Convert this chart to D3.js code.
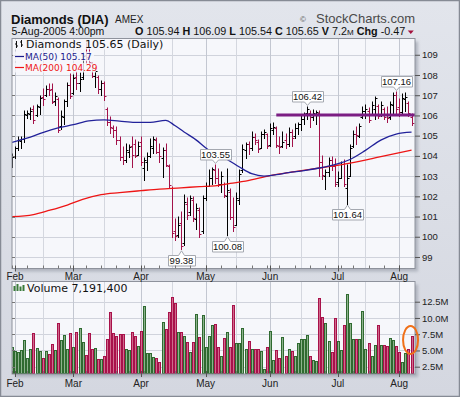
<!DOCTYPE html>
<html>
<head>
<meta charset="utf-8">
<title>Diamonds (DIA)</title>
<script src="https://cdnjs.cloudflare.com/ajax/libs/d3/7.8.5/d3.min.js"></script>
<style>
  html, body { margin: 0; padding: 0; background: #dfe2e9; }
  svg { display: block; font-family: "Liberation Sans", Arial, sans-serif; }
</style>
</head>
<body>
<svg id="chart" width="460" height="397"></svg>
<script>
(function () {
  'use strict';

  // ---- data ----
  var dates = [
    '01-31',
    '02-01','02-02','02-03','02-04','02-07','02-08','02-09','02-10','02-11','02-14','02-15','02-16','02-17','02-18','02-22','02-23','02-24','02-25','02-28',
    '03-01','03-02','03-03','03-04','03-07','03-08','03-09','03-10','03-11','03-14','03-15','03-16','03-17','03-18','03-21','03-22','03-23','03-24','03-28','03-29','03-30','03-31',
    '04-01','04-04','04-05','04-06','04-07','04-08','04-11','04-12','04-13','04-14','04-15','04-18','04-19','04-20','04-21','04-22','04-25','04-26','04-27','04-28','04-29',
    '05-02','05-03','05-04','05-05','05-06','05-09','05-10','05-11','05-12','05-13','05-16','05-17','05-18','05-19','05-20','05-23','05-24','05-25','05-26','05-27','05-31',
    '06-01','06-02','06-03','06-06','06-07','06-08','06-09','06-10','06-13','06-14','06-15','06-16','06-17','06-20','06-21','06-22','06-23','06-24','06-27','06-28','06-29','06-30',
    '07-01','07-05','07-06','07-07','07-08','07-11','07-12','07-13','07-14','07-15','07-18','07-19','07-20','07-21','07-22','07-25','07-26','07-27','07-28','07-29',
    '08-01','08-02','08-03','08-04','08-05'
  ];
  var open = [
    103.60,
    104.00,104.40,104.75,104.85,106.00,106.05,106.30,106.00,106.40,106.90,107.00,107.30,107.30,106.70,106.80,105.50,105.90,106.70,107.50,
    107.10,107.90,107.60,107.90,109.00,108.90,108.60,107.95,107.90,107.30,107.60,106.30,105.70,105.40,105.30,104.80,103.95,103.80,104.20,104.50,104.60,104.05,
    104.70,103.40,103.70,104.00,104.40,104.80,104.20,103.90,104.30,103.50,102.40,100.30,100.10,100.70,99.70,101.60,101.20,101.80,100.90,101.30,100.30,
    101.90,102.50,102.90,103.30,102.90,102.60,102.60,102.00,102.20,101.00,100.60,101.80,103.30,104.30,104.60,104.40,104.95,104.70,104.40,105.10,105.10,
    104.55,105.30,105.40,104.50,104.50,104.80,104.60,105.20,105.00,105.40,105.60,105.80,106.10,106.10,105.90,106.00,106.10,103.70,103.00,103.20,103.80,103.50,
    102.70,102.90,103.60,102.40,103.00,104.50,105.10,105.00,105.90,106.20,106.20,106.00,106.30,106.45,106.00,106.30,106.00,105.90,106.50,107.00,
    106.40,106.15,106.80,106.60,105.94
  ];
  var high = [
    104.08,
    104.45,104.95,104.95,106.20,106.20,106.35,106.45,106.50,106.95,107.30,107.45,107.55,107.55,107.10,106.85,106.20,106.75,107.60,108.05,
    108.00,108.15,108.10,109.10,109.60,109.40,108.60,108.30,107.95,107.70,107.65,106.35,105.90,105.50,105.45,104.95,104.45,104.60,104.55,104.95,104.78,104.70,
    104.95,103.90,104.12,104.85,104.95,104.87,104.60,104.40,104.60,103.55,102.48,100.90,101.00,101.24,102.05,101.90,102.00,101.95,101.60,101.40,102.00,
    102.65,103.30,103.40,103.55,103.35,103.20,102.65,103.35,102.35,101.90,102.15,103.30,104.55,104.65,104.70,105.20,105.10,104.80,105.20,105.30,105.10,
    105.60,105.65,105.45,104.95,105.20,105.10,105.40,105.30,105.60,105.65,105.95,106.10,106.42,106.20,106.25,106.20,106.20,104.00,103.30,103.90,103.95,103.85,
    103.20,103.70,103.80,103.55,104.55,105.25,105.45,105.60,106.40,106.50,106.35,106.65,106.90,106.50,106.65,106.35,106.40,106.65,107.10,107.16,
    106.80,107.05,107.10,106.68,106.09
  ];
  var low = [
    103.45,
    103.90,104.30,104.40,104.70,105.85,105.80,105.65,105.95,106.05,106.50,106.95,107.00,106.60,106.50,105.20,105.35,105.60,106.45,106.85,
    107.05,107.30,107.20,107.80,108.60,108.50,107.90,107.40,107.10,107.00,106.75,105.55,105.15,104.95,104.60,103.80,103.60,103.70,103.95,103.45,103.96,104.04,
    103.55,102.80,103.30,103.95,104.15,104.12,103.70,102.97,103.50,102.48,100.00,99.84,100.00,99.38,99.60,100.90,101.10,100.80,100.40,100.00,100.20,
    101.80,102.50,102.60,102.65,102.50,102.20,101.95,100.08,100.90,100.30,100.60,101.60,103.20,103.90,104.10,104.30,104.60,104.20,104.40,104.90,104.40,
    104.50,105.10,104.45,104.15,104.45,104.40,104.50,104.50,104.90,105.10,105.30,105.60,105.80,105.45,105.75,105.60,103.00,102.85,102.35,103.00,103.30,102.50,
    102.50,102.90,102.50,101.64,103.00,104.45,104.60,104.95,105.85,105.85,105.70,106.00,105.80,105.85,105.95,105.80,105.70,105.80,106.00,106.10,
    105.95,106.10,106.20,105.95,105.54
  ];
  var close = [
    103.95,
    104.40,104.80,104.85,106.05,106.10,106.20,105.75,106.45,106.85,106.80,107.30,107.25,106.65,106.95,105.30,105.95,106.70,107.50,106.95,
    107.85,107.60,107.80,108.95,108.90,108.65,107.95,108.20,107.30,107.60,106.95,105.70,105.45,105.30,104.80,103.95,103.80,104.30,104.45,104.05,104.00,104.50,
    103.70,103.80,104.00,104.50,104.85,104.20,104.00,104.30,103.55,102.55,100.20,100.05,100.60,99.55,101.70,101.10,101.90,100.95,101.40,100.15,101.90,
    102.50,102.90,103.35,102.90,102.60,103.00,102.05,102.30,101.00,100.50,101.90,103.10,104.35,104.60,104.40,104.95,104.80,104.35,105.10,105.20,104.50,
    105.40,105.45,104.55,104.45,104.70,104.60,105.20,104.90,105.40,105.60,105.80,106.00,106.30,105.90,106.10,106.15,103.70,103.05,103.20,103.80,103.50,102.60,
    102.90,103.60,102.60,102.90,104.40,105.10,105.05,105.50,106.20,106.30,105.75,106.50,106.85,105.95,106.50,105.90,105.85,106.55,107.00,106.30,
    106.15,106.85,106.90,106.12,105.65
  ];
  // volume in millions of shares
  var volume = [
    5.48,
    4.92,4.71,5.07,6.61,3.79,5.23,7.64,5.33,4.92,3.79,4.92,4.40,6.00,5.07,9.17,6.61,7.38,5.23,7.64,
    5.48,7.79,8.41,6.25,4.30,7.64,5.23,5.33,3.64,3.64,4.15,6.71,10.87,7.74,7.23,7.48,7.48,5.17,5.07,7.79,7.28,5.74,
    7.94,11.84,4.56,4.56,3.94,3.79,3.28,9.33,8.30,10.97,13.17,12.25,7.79,7.89,7.23,6.25,4.71,6.25,10.56,7.12,10.46,
    5.59,7.23,8.92,9.07,5.48,4.15,6.97,7.79,5.60,12.00,6.10,6.20,8.50,5.20,6.40,5.30,5.20,5.20,4.90,2.10,5.60,
    8.00,3.50,5.00,3.80,7.00,4.20,5.20,4.90,4.20,6.20,6.70,6.80,7.40,4.20,3.60,3.40,13.00,10.20,9.20,6.50,4.80,10.00,
    6.40,5.00,8.90,13.70,9.20,6.80,6.70,6.70,11.00,5.20,6.20,4.20,5.90,8.90,5.90,5.90,5.70,6.90,6.60,5.70,
    4.80,3.30,4.60,5.20,7.19
  ];
  var ma50Idx = [0, 3, 6, 10, 15, 20, 25, 30, 35, 40, 45, 50, 53, 56, 60, 63, 66, 70, 74, 78, 82, 86, 90, 95, 100, 105, 110, 115, 120, 125, 130];
  var ma50 = [104.67, 104.80, 104.93, 105.15, 105.38, 105.54, 105.73, 105.78, 105.72, 105.66, 105.66, 105.76, 105.50, 105.18, 104.78, 104.40, 104.08, 103.82, 103.45, 103.12, 103.00, 103.07, 103.17, 103.27, 103.40, 103.57, 103.82, 104.27, 104.78, 105.08, 105.17];
  var ma200Idx = [0, 7, 12, 18, 23, 29, 35, 42, 48, 55, 61, 66, 71, 76, 84, 92, 100, 110, 120, 130];
  var ma200 = [101.00, 101.10, 101.30, 101.57, 101.85, 102.08, 102.18, 102.28, 102.36, 102.42, 102.48, 102.52, 102.64, 102.75, 103.02, 103.22, 103.40, 103.64, 103.96, 104.29];
  var priceTicks = [99, 100, 101, 102, 103, 104, 105, 106, 107, 108, 109];
  var volTicks = [2.5, 5.0, 7.5, 10.0, 12.5];
  var monthNames = ['Jan', 'Feb', 'Mar', 'Apr', 'May', 'Jun', 'Jul', 'Aug'];
  var midMonthIdx = [10, 30, 52, 73, 94, 115];
  // price callouts: bar index and which end of the bar gets the tag
  var callouts = [
    { i: 66, end: 'high' }, { i: 55, end: 'low' }, { i: 70, end: 'low' },
    { i: 96, end: 'high' }, { i: 109, end: 'low' }, { i: 125, end: 'high' }
  ];
  var resistance = { fromIdx: 86, level: 106.02 };

  var svg = d3.select('#chart');
  var W = 460, H = 397;
  var P = { l: 12, r: 415, t: 38.5, b: 268.5 };   // price panel
  var V = { l: 12, r: 415, t: 281.5, b: 374 };    // volume panel
  var VERDANA = '"DejaVu Sans", Verdana, sans-serif';

  var x = d3.scaleLinear().domain([0, 130]).range([11.93, 411.55]);
  var y = d3.scaleLinear().domain([98.44, 109.815]).range([268.3, 38.3]);
  var yv = d3.scaleLinear().domain([1.377, 15.58]).range([374, 281.7]);
  function px(i) { return Math.round(x(i)) + 0.5; }
  function py(v) { return Math.round(y(v)) + 0.5; }
  function pyv(v) { return Math.round(yv(v)) + 0.5; }

  var UP = '#000000', DOWN = '#a3124a';
  function isUp(i) { return i === 0 || close[i] >= close[i - 1]; }

  // ---- background ----
  var defs = svg.append('defs');
  var grad = defs.append('linearGradient').attr('id', 'bg').attr('x1', 0).attr('y1', 0).attr('x2', 0).attr('y2', 1);
  grad.append('stop').attr('offset', '0%').attr('stop-color', '#e2e5ec');
  grad.append('stop').attr('offset', '100%').attr('stop-color', '#d4d7e0');
  var blur = defs.append('filter').attr('id', 'sh').attr('x', '-5%').attr('y', '-5%').attr('width', '115%').attr('height', '115%');
  blur.append('feGaussianBlur').attr('stdDeviation', 1.6);
  defs.append('clipPath').attr('id', 'clipP').append('rect')
    .attr('x', P.l).attr('y', P.t).attr('width', P.r - P.l).attr('height', P.b - P.t);
  defs.append('clipPath').attr('id', 'clipV').append('rect')
    .attr('x', V.l).attr('y', V.t).attr('width', V.r - V.l).attr('height', V.b - V.t);

  svg.append('rect').attr('x', 0.5).attr('y', 0.5).attr('width', W - 1).attr('height', H - 1)
    .attr('fill', 'url(#bg)').attr('stroke', '#868b95').attr('stroke-width', 1.5);

  [P, V].forEach(function (p) {
    svg.append('rect').attr('x', p.l + 3).attr('y', p.t + 3).attr('width', p.r - p.l).attr('height', p.b - p.t)
      .attr('fill', '#9ea3ae').attr('opacity', 0.7).attr('filter', 'url(#sh)');
    svg.append('rect').attr('x', p.l).attr('y', p.t).attr('width', p.r - p.l).attr('height', p.b - p.t)
      .attr('fill', '#f6f7fb');
  });

  // ---- header ----
  svg.append('text').attr('x', 11).attr('y', 23.5).attr('font-size', 13).attr('font-weight', 'bold')
    .attr('fill', '#111').text('Diamonds (DIA)');
  svg.append('text').attr('x', 115).attr('y', 22.7).attr('font-size', 10).attr('fill', '#222').text('AMEX');
  svg.append('text').attr('x', 11.5).attr('y', 35).attr('font-size', 10.5).attr('fill', '#111').text('5-Aug-2005 4:00pm');
  svg.append('text').attr('x', 300).attr('y', 21.5).attr('font-size', 8).attr('fill', '#555').text('\u00a9');
  svg.append('text').attr('x', 415).attr('y', 23).attr('text-anchor', 'end').attr('font-size', 13)
    .attr('fill', '#4a4a4a').text('StockCharts.com');

  // quote line: bold keys, plain values, one flowing text
  var quote = [
    ['O', true], ['\u00a0105.94\u00a0', false], ['H', true], ['\u00a0106.09\u00a0', false],
    ['L', true], ['\u00a0105.54\u00a0', false], ['C', true], ['\u00a0105.65\u00a0', false],
    ['V', true], ['\u00a07.2', false], ['M', false, 8], ['\u00a0', false], ['Chg', true], ['\u00a0-0.47', false]
  ];
  var qt = svg.append('text').attr('x', 135).attr('y', 35).attr('font-size', 10.8).attr('fill', '#111');
  quote.forEach(function (q) {
    var t = qt.append('tspan').attr('font-weight', q[1] ? 'bold' : 'normal').text(q[0]);
    if (q[2]) t.attr('font-size', q[2]);
  });
  var qEnd = 135 + qt.node().getComputedTextLength();
  svg.append('path').attr('d', 'M' + (qEnd + 2.5) + ',30.5 h6 l-3,3.5 Z').attr('fill', '#a3103c');

  // ---- grids ----
  var monthIdx = [];
  dates.forEach(function (d, i) {
    if (i > 0 && d.slice(0, 2) !== dates[i - 1].slice(0, 2)) monthIdx.push(i);
  });
  var weekIdx = [];
  dates.forEach(function (d, i) {
    var dt = new Date(2005, +d.slice(0, 2) - 1, +d.slice(3));
    if (i === 0) { weekIdx.push(i); return; }
    var pd = dates[i - 1];
    var pdt = new Date(2005, +pd.slice(0, 2) - 1, +pd.slice(3));
    if (dt.getDay() < pdt.getDay()) weekIdx.push(i);
  });
  var vgrid = monthIdx.concat(midMonthIdx);
  function vColor(d) { return monthIdx.indexOf(d) >= 0 ? '#c3c7d1' : '#d4d7df'; }

  var gP = svg.append('g');
  gP.selectAll('line.h').data(priceTicks).enter().append('line')
    .attr('x1', P.l).attr('x2', P.r).attr('y1', py).attr('y2', py)
    .attr('stroke', '#d0d3dc').attr('stroke-width', 1);
  gP.selectAll('line.v').data(vgrid).enter().append('line')
    .attr('x1', px).attr('x2', px).attr('y1', P.t).attr('y2', P.b).attr('stroke', vColor);

  var gV = svg.append('g');
  gV.selectAll('line.h').data(volTicks).enter().append('line')
    .attr('x1', V.l).attr('x2', V.r).attr('y1', pyv).attr('y2', pyv).attr('stroke', '#d0d3dc');
  gV.selectAll('line.v').data(vgrid).enter().append('line')
    .attr('x1', px).attr('x2', px).attr('y1', V.t).attr('y2', V.b).attr('stroke', vColor);

  // ---- volume bars ----
  svg.append('g').attr('clip-path', 'url(#clipV)').selectAll('rect').data(volume).enter().append('rect')
    .attr('x', function (d, i) { return Math.round(x(i)) - 0.5; })
    .attr('width', 2)
    .attr('y', pyv)
    .attr('height', function (d) { return V.b - pyv(d); })
    .attr('fill', function (d, i) { return isUp(i) ? '#8db28d' : '#cf6a8c'; })
    .attr('stroke', function (d, i) { return isUp(i) ? '#2f6a30' : '#a8114a'; })
    .attr('stroke-width', 1);

  // ---- price bars ----
  var gBars = svg.append('g').attr('clip-path', 'url(#clipP)');
  gBars.selectAll('path').data(close).enter().append('path')
    .attr('d', function (c, i) {
      var xx = px(i);
      return 'M' + xx + ',' + (Math.round(y(high[i])) - 0.5) + 'V' + (Math.round(y(low[i])) + 1) +
        'M' + (xx - 2) + ',' + py(open[i]) + 'H' + xx +
        'M' + xx + ',' + py(c) + 'H' + (xx + 2);
    })
    .attr('fill', 'none').attr('stroke-width', 1)
    .attr('stroke', function (c, i) { return isUp(i) ? UP : DOWN; });

  // ---- moving averages ----
  var line = d3.line().x(function (d) { return x(d[0]); }).y(function (d) { return y(d[1]); })
    .curve(d3.curveMonotoneX);
  var gMA = svg.append('g').attr('clip-path', 'url(#clipP)');
  gMA.append('path').datum(d3.zip(ma200Idx, ma200)).attr('d', line)
    .attr('fill', 'none').attr('stroke', '#ee1515').attr('stroke-width', 1.3);
  gMA.append('path').datum(d3.zip(ma50Idx, ma50)).attr('d', line)
    .attr('fill', 'none').attr('stroke', '#22229a').attr('stroke-width', 1.3);

  // resistance line
  svg.append('line').attr('x1', x(resistance.fromIdx)).attr('x2', P.r)
    .attr('y1', y(resistance.level)).attr('y2', y(resistance.level))
    .attr('stroke', '#7b1d83').attr('stroke-width', 3);

  // ---- callouts ----
  callouts.forEach(function (c) {
    var v = c.end === 'high' ? high[c.i] : low[c.i];
    var label = v.toFixed(2);
    var cx = px(c.i);
    var w = label.length > 5 ? 31 : 27, h = 10.5;
    var bx = Math.round(cx - w / 2) + 0.5;
    var g = svg.append('g');
    var d, by;
    if (c.end === 'high') {
      var tip = y(v) - 1.5;
      by = Math.round(tip - 4 - h) + 0.5;
      d = 'M' + bx + ',' + by + 'H' + (bx + w) + 'V' + (by + h) + 'H' + (cx + 3) +
        'L' + cx + ',' + tip + 'L' + (cx - 3) + ',' + (by + h) + 'H' + bx + 'Z';
    } else {
      var tipL = y(v) + 1.5;
      by = Math.round(tipL + 4) + 0.5;
      d = 'M' + bx + ',' + by + 'H' + (cx - 3) + 'L' + cx + ',' + tipL + 'L' + (cx + 3) + ',' + by +
        'H' + (bx + w) + 'V' + (by + h) + 'H' + bx + 'Z';
    }
    g.append('path').attr('d', d).attr('fill', '#ffffff').attr('stroke', '#a4a8b0').attr('stroke-width', 1);
    g.append('text').attr('x', cx).attr('y', by + 8.6).attr('text-anchor', 'middle')
      .attr('font-size', 9.5).attr('fill', '#111').text(label);
  });

  // ---- panel borders & axes ----
  [P, V].forEach(function (p) {
    svg.append('rect').attr('x', p.l).attr('y', p.t).attr('width', p.r - p.l).attr('height', p.b - p.t)
      .attr('fill', 'none').attr('stroke', '#8e929c').attr('stroke-width', 1);
  });

  var axP = svg.append('g').attr('transform', 'translate(' + P.r + ',0)')
    .call(d3.axisRight(y).tickValues(priceTicks).tickSize(5).tickPadding(2).tickFormat(d3.format('d')));
  var axV = svg.append('g').attr('transform', 'translate(' + V.r + ',0)')
    .call(d3.axisRight(yv).tickValues(volTicks).tickSize(5).tickPadding(2)
      .tickFormat(function (d) { return d.toFixed(1) + 'M'; }));
  [axP, axV].forEach(function (ax) {
    ax.attr('font-family', null).attr('font-size', null);
    ax.select('.domain').remove();
    ax.selectAll('line').attr('stroke', '#555');
    ax.selectAll('text').attr('font-size', 9.5).attr('fill', '#222');
  });

  // small inner ticks on the left edge
  svg.append('g').selectAll('line').data(priceTicks).enter().append('line')
    .attr('x1', P.l).attr('x2', P.l + 3).attr('y1', py).attr('y2', py).attr('stroke', '#777');
  svg.append('g').selectAll('line').data(volTicks).enter().append('line')
    .attr('x1', V.l).attr('x2', V.l + 3).attr('y1', pyv).attr('y2', pyv).attr('stroke', '#777');

  // week ticks along the bottoms, month ticks longer
  [P, V].forEach(function (p) {
    svg.append('g').selectAll('line').data(weekIdx).enter().append('line')
      .attr('x1', px).attr('x2', px).attr('y1', p.b - 3).attr('y2', p.b).attr('stroke', '#777');
    svg.append('g').selectAll('line').data(monthIdx).enter().append('line')
      .attr('x1', px).attr('x2', px).attr('y1', p.b - 3).attr('y2', p.b + 3).attr('stroke', '#555');
  });

  // month labels under both panels
  [279.5, 387].forEach(function (yy) {
    svg.append('g').selectAll('text').data(monthIdx).enter().append('text')
      .attr('x', function (d) { return x(d); }).attr('y', yy).attr('text-anchor', 'middle')
      .attr('font-size', 10).attr('fill', '#222')
      .text(function (d) { return monthNames[+dates[d].slice(0, 2) - 1]; });
  });

  // ---- legends (semi-opaque strips so bars show faintly through) ----
  var strips = [[13, 39.5, 156, 10], [13, 51.5, 81, 10], [13, 62.5, 83, 10]];
  strips.forEach(function (s) {
    svg.append('rect').attr('x', s[0]).attr('y', s[1]).attr('width', s[2]).attr('height', s[3])
      .attr('fill', '#f6f7fb').attr('opacity', 0.82);
  });
  svg.append('path').attr('d', 'M16.5,41V48M15,44H16.5M16.5,46H18M21.5,40V47M20,42H21.5M21.5,45H23')
    .attr('stroke', '#111').attr('fill', 'none').attr('stroke-width', 1);
  svg.append('text').attr('x', 26).attr('y', 48).style('font-family', VERDANA)
    .attr('font-size', 11).attr('fill', '#111').text('Diamonds 105.65 (Daily)');

  var maLegend = [
    { label: 'MA(50) ' + ma50[ma50.length - 1].toFixed(2), color: '#1a1a8c', yy: 60 },
    { label: 'MA(200) ' + ma200[ma200.length - 1].toFixed(2), color: '#ee1515', yy: 71 }
  ];
  maLegend.forEach(function (m) {
    svg.append('line').attr('x1', 15).attr('x2', 24).attr('y1', m.yy - 3.5).attr('y2', m.yy - 3.5)
      .attr('stroke', m.color).attr('stroke-width', 1.2);
    svg.append('text').attr('x', 25).attr('y', m.yy).style('font-family', VERDANA)
      .attr('font-size', 9).attr('fill', m.color).text(m.label);
  });

  svg.append('path').attr('d', 'M14.5,291V286M17.5,291V284M20.5,291V286.5M23.5,291V285')
    .attr('stroke', '#3a7a3a').attr('stroke-width', 2);
  svg.append('text').attr('x', 27).attr('y', 291.5).style('font-family', VERDANA)
    .attr('font-size', 11).attr('fill', '#111').text('Volume 7,191,400');

  // highlight ring round the last volume bar
  svg.append('ellipse').attr('cx', x(130) - 1).attr('cy', 340).attr('rx', 7.5).attr('ry', 14)
    .attr('fill', 'none').attr('stroke', '#f07018').attr('stroke-width', 2);
})();
</script>
</body>
</html>
